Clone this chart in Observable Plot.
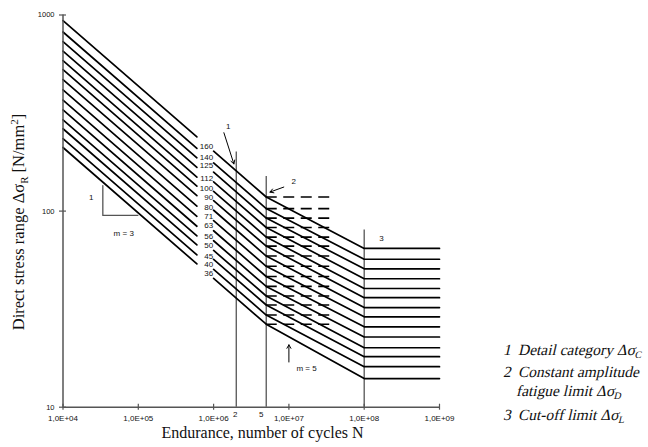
<!DOCTYPE html>
<html><head><meta charset="utf-8">
<script src="https://cdn.jsdelivr.net/npm/d3@7"></script>
<script src="https://cdn.jsdelivr.net/npm/@observablehq/plot@0.6"></script>
<style>
body{margin:0;background:#fff;}
#wrap{position:relative;width:648px;height:447px;overflow:hidden;}
</style></head><body><div id="wrap"></div>
<script>
// Detail categories (N/mm²)
const categories = [160,140,125,112,100,90,80,71,63,56,50,45,40,36];
// stress range read at the curve breakpoints
const sAt1e4 = [936,819,731,655,585,526,468,415,368,328,292,263,234,211];
const sAt6e5 = [239,209,187,167,149,134,120,106,94.1,83.7,74.7,67.2,59.8,53.8];
const sAt1e6 = [202,176,158,141,126,113,101,89.5,79.4,70.6,63.0,56.7,50.4,45.4];
const sAt5e6 = [118,103,92.1,82.5,73.7,66.3,59.0,52.3,46.4,41.3,36.9,33.2,29.5,26.5];
const sAt1e8 = [64.5,56.8,50.8,45.2,40.3,36.2,32.2,28.9,25.7,22.8,20.1,18.1,16.1,14.0];
const labelS = [214,188,171,147,131,117,105,94,84.2,74.3,66.9,58.8,53.5,48.0];
// breakpoints on the endurance axis
const nStart = 1e4, nGapA = 6e5, nGapB = 1e6, nKnee = 5e6, nCut = 1e8, nEnd = 1e9, nDashEnd = 3.8e7;
const xTicks = [1e4,1e5,1e6,1e7,1e8,1e9];
const yTicks = [10,100,1000];
// vertical reference lines (N, top stress)
const refN = [2e6,5e6,1e8];
const refTop = [200,150,80];
// annotations
const arrows = [
  {x1:1.37e6,y1:251,x2:1.86e6,y2:174},
  {x1:8.55e6,y1:132.6,x2:5.6e6,y2:125},
  {x1:1e7,y1:17.0,x2:1e7,y2:20.8}
];
const notes = [
  {N:1.56e6,s:271,t:"1",a:"middle"},
  {N:1.16e7,s:142,t:"2",a:"middle"},
  {N:1.70e8,s:72.8,t:"3",a:"middle"},
  {N:1.26e7,s:15.7,t:"m = 5",a:"start"},
  {N:6.4e4,s:76.7,t:"m = 3",a:"middle"},
  {N:2.37e4,s:117.8,t:"1",a:"middle"}
];
const triN = [3.38e4,3.38e4,9.85e4];
const triS = [135,95,95];
// legend entries
const legendNums = ["1","2","","3"];
const legendTexts = ["Detail category Δσ","Constant amplitude","fatigue limit Δσ","Cut-off limit Δσ"];
const legendSubs = ["C","","D","L"];

const rows = [];
categories.forEach((c,i)=>{
  rows.push({c,seg:"a",N:nStart,s:sAt1e4[i]},{c,seg:"a",N:nGapA,s:sAt6e5[i]});
  rows.push({c,seg:"b",N:nGapB,s:sAt1e6[i]},{c,seg:"b",N:nKnee,s:sAt5e6[i]},
            {c,seg:"b",N:nCut,s:sAt1e8[i]},{c,seg:"b",N:nEnd,s:sAt1e8[i]});
});
const tri = triN.map((N,i)=>({N,s:triS[i]}));
const refs = refN.map((N,i)=>({N,top:refTop[i]}));

const plot = Plot.plot({
  width:648, height:447,
  marginLeft:62.5, marginRight:209, marginTop:14.5, marginBottom:40.3,
  style:{fontFamily:"'Liberation Sans', Arial, sans-serif", fontSize:"8px", color:"#111", background:"#fff"},
  x:{type:"log", domain:[1e4,1e9]},
  y:{type:"log", domain:[10,1000]},
  marks:[
    Plot.ruleX(refs,{x:"N",y1:10,y2:"top",stroke:"#555",strokeWidth:1.3}),
    Plot.ruleY(sAt5e6,{y:d=>d,x1:nKnee,x2:nDashEnd,stroke:"#000",strokeWidth:1.6,strokeDasharray:"11,6.5"}),
    Plot.line(rows,{x:"N",y:"s",z:d=>d.c+d.seg,stroke:"#000",strokeWidth:1.7}),
    Plot.line(tri,{x:"N",y:"s",stroke:"#555",strokeWidth:1.3}),
    Plot.ruleX([1e4],{y1:10,y2:1000,stroke:"#555",strokeWidth:1.5}),
    Plot.ruleY([10],{x1:1e4,x2:1e9,stroke:"#555",strokeWidth:1.5}),
    Plot.ruleX(xTicks,{x:d=>d,y1:10,y2:10,insetTop:-3,insetBottom:-3,stroke:"#555",strokeWidth:1.2}),
    Plot.ruleY(yTicks,{y:d=>d,x1:1e4,x2:1e4,insetLeft:-3.5,insetRight:-3.5,stroke:"#555",strokeWidth:1.2}),
    Plot.axisX({ticks:xTicks,tickSize:0,tickPadding:8,label:null,fontSize:8,
      tickFormat:d=>"1,0E+0"+Math.round(Math.log10(d))}),
    Plot.axisY({ticks:yTicks,tickSize:0,tickPadding:8.5,label:null,fontSize:7.5,tickFormat:d=>String(d)}),
    Plot.text(["2"],{x:2e6,y:10,text:d=>d,dy:7,dx:-1,fontSize:8}),
    Plot.text(["5"],{x:5e6,y:10,text:d=>d,dy:7,dx:-5,fontSize:8}),
    Plot.text(categories,{x:nGapB,y:(d,i)=>labelS[i],text:d=>String(d),textAnchor:"end",dx:-0.5,fontSize:8,fill:"#111"}),
    Plot.arrow(arrows,{x1:"x1",y1:"y1",x2:"x2",y2:"y2",stroke:"#000",strokeWidth:1,headLength:6}),
    Plot.text(notes.filter(d=>d.a==="middle"),{x:"N",y:"s",text:"t",fontSize:8,fill:"#111"}),
    Plot.text(notes.filter(d=>d.a==="start"),{x:"N",y:"s",text:"t",textAnchor:"start",fontSize:8,fill:"#111"})
  ]
});
document.getElementById("wrap").appendChild(plot);

const svg = d3.select(plot);
const serif = "'Liberation Serif','Times New Roman',serif";
const yt = svg.append("text").attr("transform","translate(24,222) rotate(-90)")
  .attr("text-anchor","middle").attr("font-family",serif).attr("font-size","16.5px").attr("fill","#111");
yt.append("tspan").text("Direct stress range Δσ");
yt.append("tspan").attr("dy",3.5).attr("font-size","11px").text("R");
yt.append("tspan").attr("dy",-3.5).text(" [N/mm");
yt.append("tspan").attr("dy",-6).attr("font-size","11px").text("2");
yt.append("tspan").attr("dy",6).text("]");
svg.append("text").attr("x",262.5).attr("y",437.5).attr("text-anchor","middle")
  .attr("font-family",serif).attr("font-size","16px").attr("fill","#111")
  .text("Endurance, number of cycles N");

// legend beside the plot, slanted serif
const baselines = [355,376.7,396,420];
const lg = svg.append("g").attr("font-family",serif).attr("font-size","15.5px")
  .attr("fill","#111").attr("text-anchor","start");
legendTexts.forEach((txt,i)=>{
  if(legendNums[i]) lg.append("text").attr("text-anchor","start")
    .attr("transform",`translate(503,${baselines[i]}) skewX(-13)`).text(legendNums[i]);
  const t = lg.append("text").attr("text-anchor","start")
    .attr("transform",`translate(${i===2?516:518},${baselines[i]}) skewX(-13)`);
  t.append("tspan").text(txt);
  if(legendSubs[i]) t.append("tspan").attr("dy",3).attr("font-size","10px").text(legendSubs[i]);
});
</script></body></html>
